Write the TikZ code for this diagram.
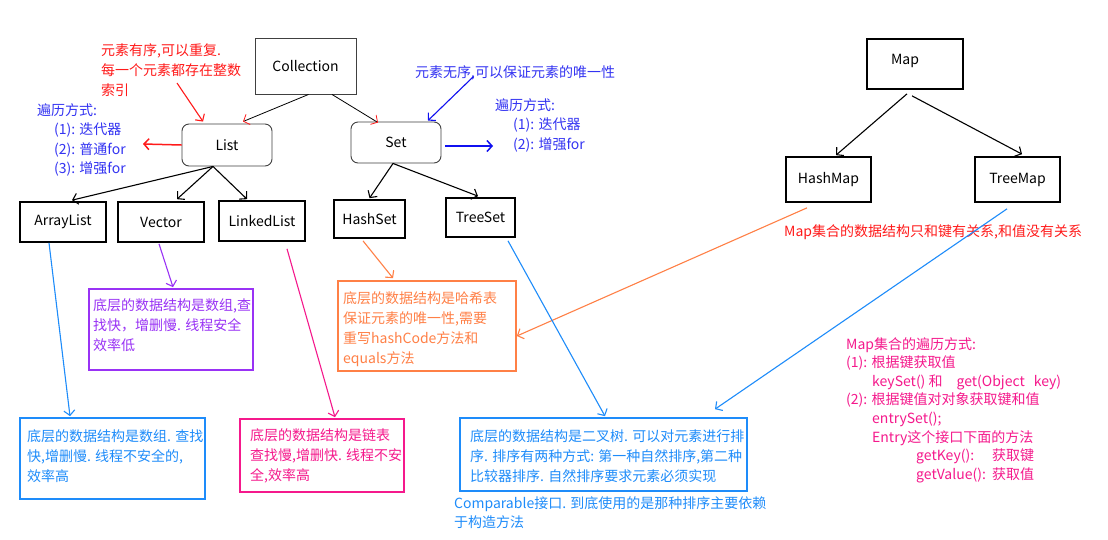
\documentclass[tikz,border=0pt]{standalone}
\usepackage{fontspec}
\setmainfont{Noto Sans CJK SC}
\usetikzlibrary{arrows.meta,calc}
\definecolor{notered}{HTML}{FF1A1A}
\definecolor{travblue}{HTML}{3333F2}
\definecolor{arrblue}{HTML}{1010F0}
\definecolor{azure}{HTML}{1E8CFA}
\definecolor{violet}{HTML}{9932F5}
\definecolor{rosepink}{HTML}{F5198C}
\definecolor{coral}{HTML}{FF8046}
\tikzset{
  box/.style={draw=black,line width=1.7pt,inner sep=0pt,font=\fontsize{14}{17}\selectfont},
  thinbox/.style={draw=black!75,line width=0.9pt,inner sep=0pt,font=\fontsize{14}{17}\selectfont},
  rbox/.style={thinbox,rounded corners=7pt},
  notebox/.style={draw=#1,line width=1.7pt,inner sep=0pt},
  txt/.style={anchor=north west,inner sep=0pt,align=left,font=\fontsize{14}{20}\selectfont},
  arr/.style={-{Straight Barb[length=5pt,width=11pt]},line width=1.1pt},
}
\begin{document}
\begin{tikzpicture}[x=1pt,y=-1pt]
\useasboundingbox[fill=white] (0,0) rectangle (1108,539);

\node[thinbox,minimum width=101pt,minimum height=56pt] (collection) at (305.5,66) {Collection};
\node[rbox,minimum width=90pt,minimum height=42pt] (list) at (227,145) {List};
\node[rbox,minimum width=90pt,minimum height=41pt] (set) at (396,142.5) {Set};
\node[box,minimum width=86pt,minimum height=40pt] (arraylist) at (63,222) {ArrayList};
\node[box,minimum width=86pt,minimum height=40pt] (vector) at (161,222) {Vector};
\node[box,minimum width=86pt,minimum height=40pt] (linkedlist) at (262,221) {LinkedList};
\node[box,minimum width=71pt,minimum height=38pt] (hashset) at (369.5,219) {HashSet};
\node[box,minimum width=69pt,minimum height=39pt] (treeset) at (480.5,217.5) {TreeSet};
\node[box,minimum width=96pt,minimum height=50pt] (map) at (915,64) {Map\hspace*{20pt}\rule[-10pt]{0pt}{0pt}};
\node[box,minimum width=85pt,minimum height=45pt] (hashmap) at (828.5,179.5) {HashMap};
\node[box,minimum width=85pt,minimum height=45pt] (treemap) at (1017.5,179.5) {TreeMap};

\node[notebox=violet,minimum width=164pt,minimum height=81pt] (vecnote) at (171,329.5) {};
\node[notebox=azure,minimum width=185pt,minimum height=81pt] (arrnote) at (112.5,458.5) {};
\node[notebox=rosepink,minimum width=164pt,minimum height=73pt] (linknote) at (322,455.5) {};
\node[notebox=coral,minimum width=178pt,minimum height=90pt] (hashnote) at (427,326) {};
\node[notebox=azure,minimum width=287pt,minimum height=73pt] (treenote) at (603.5,454.5) {};

\node[txt,text=notered] (ordnote) at (101,43) {元素有序,可以重复.\\每一个元素都存在整数\\索引};
\node[txt,text=travblue,font=\fontsize{14}{19.5}\selectfont] (listtrav) at (37,103) {遍历方式:\\\hspace*{17pt}(1): 迭代器\\\hspace*{17pt}(2): 普通for\\\hspace*{17pt}(3): 增强for};
\node[txt,text=travblue] (setnote) at (415,65) {元素无序,可以保证元素的唯一性};
\node[txt,text=travblue,font=\fontsize{14}{19.5}\selectfont] (settrav) at (495,98) {遍历方式:\\\hspace*{18pt}(1): 迭代器\\\hspace*{18pt}(2): 增强for};
\node[txt,text=violet] (vectext) at (93,298) {底层的数据结构是数组,查\\找快，增删慢. 线程安全\\效率低};
\node[txt,text=azure] (arrtext) at (27,429) {底层的数据结构是数组. 查找\\快,增删慢. 线程不安全的,\\效率高};
\node[txt,text=rosepink] (linktext) at (250,428) {底层的数据结构是链表\\查找慢,增删快. 线程不安\\全,效率高};
\node[txt,text=coral] (hashtext) at (343,291) {底层的数据结构是哈希表\\保证元素的唯一性,需要\\重写hashCode方法和\\equals方法};
\node[txt,text=azure] (treetext) at (470,429) {底层的数据结构是二叉树. 可以对元素进行排\\序. 排序有两种方式: 第一种自然排序,第二种\\比较器排序. 自然排序要求元素必须实现};
\node[txt,text=azure,font=\fontsize{14}{19}\selectfont] (cmptext) at (454,496) {Comparable接口. 到底使用的是那种排序主要依赖\\于构造方法};
\node[txt,text=notered] (maptext) at (784,224) {Map集合的数据结构只和键有关系,和值没有关系};
\node[txt,text=rosepink,font=\fontsize{14}{18.6}\selectfont] (maptrav) at (846,337) {Map集合的遍历方式:\\(1): 根据键获取值\\\hspace*{26pt}keySet() 和\hspace*{14pt}get(Object\hspace*{9pt}key)\\(2): 根据键值对对象获取键和值\\\hspace*{26pt}entrySet();\\\hspace*{26pt}Entry这个接口下面的方法\\\hspace*{70pt}\makebox[76pt][l]{getKey():}获取键\\\hspace*{70pt}\makebox[76pt][l]{getValue():}获取值};

\coordinate (ordtip) at (177,83);
\coordinate (listout) at (143,144);
\coordinate (settip) at (473,77);
\coordinate (setout) at (493,146);

\draw[arr,line width=0.8pt,-{Straight Barb[length=5pt,width=11pt,color=notered]}] ([xshift=3pt]collection.south) -- ([xshift=16pt,yshift=2pt]list.north);
\draw[arr,line width=0.8pt,-{Straight Barb[length=5pt,width=11pt,color=notered]}] ([xshift=26.5pt]collection.south) -- ([xshift=-18pt,yshift=-1pt]set.north);
\draw[arr,notered] (ordtip) -- ([xshift=-24pt,yshift=2pt]list.north);
\draw[arr,notered,line width=1.5pt] (list.west) -- (listout);
\draw[arr,arrblue] (settip) -- ([xshift=32pt,yshift=1pt]set.north);
\draw[arr,arrblue,line width=1.5pt] ([xshift=4pt,yshift=-3.5pt]set.east) -- (setout);

\draw[arr] ([xshift=-14pt]list.south) -- ([xshift=9pt,yshift=1pt]arraylist.north);
\draw[arr] ([xshift=-14pt]list.south) -- ([xshift=16pt,yshift=2pt]vector.north);
\draw[arr] ([xshift=-14pt]list.south) -- ([xshift=-15pt,yshift=1pt]linkedlist.north);
\draw[arr] ([xshift=-3pt]set.south) -- ([yshift=1pt]hashset.north);
\draw[arr] ([xshift=-3pt]set.south) -- ([xshift=-2.5pt,yshift=1pt]treeset.north);
\draw[arr] ([xshift=-8pt,yshift=-4pt]map.south) -- ([xshift=7.5pt,yshift=1pt]hashmap.north);
\draw[arr] ([xshift=-3pt,yshift=-6pt]map.south) -- ([xshift=4.5pt,yshift=2pt]treemap.north);

\draw[arr,violet] ([xshift=-2pt,yshift=-1pt]vector.south) -- ([xshift=2pt,yshift=1pt]vecnote.north);
\draw[arr,azure] ([xshift=-14pt]arraylist.south) -- ([xshift=-42.5pt,yshift=1pt]arrnote.north);
\draw[arr,rosepink] ([xshift=25pt,yshift=-7pt]linkedlist.south) -- ([xshift=13pt,yshift=1pt]linknote.north);
\draw[arr,coral] ([xshift=-6.5pt,yshift=-2pt]hashset.south) -- ([xshift=-34pt,yshift=2pt]hashnote.north);
\draw[arr,coral] ([xshift=-21.5pt,yshift=-5pt]hashmap.south) -- ([yshift=-10pt]hashnote.east);
\draw[arr,azure] ([xshift=27.5pt,yshift=-3pt]treeset.south) -- ([xshift=1.5pt,yshift=1pt]treenote.north);
\draw[arr,azure] ([xshift=-10.5pt,yshift=-6pt]treemap.south) -- ([xshift=111.5pt,yshift=8pt]treenote.north);
\end{tikzpicture}
\end{document}
